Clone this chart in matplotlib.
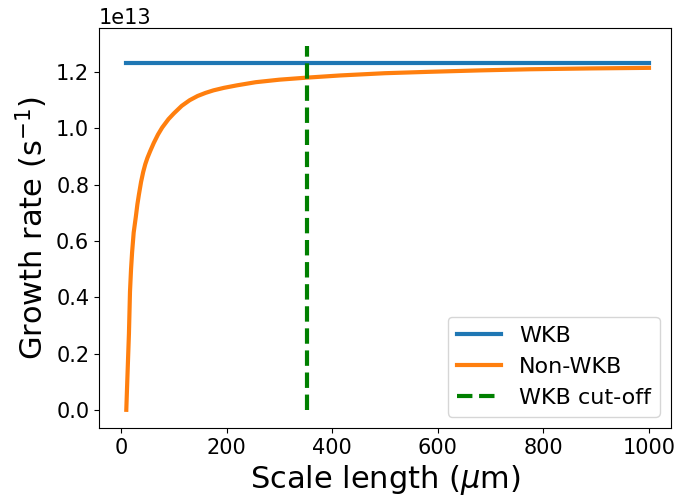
import matplotlib.pyplot as plt

# Scale length (um)
scale_length = [10, 12, 15, 17, 19, 21, 24, 28, 31, 34, 38, 42, 46, 50, 55, 62, 70,
                78, 90, 100, 115, 130, 145, 160, 175, 195, 220, 255, 300, 350, 415,
                500, 585, 680, 775, 890, 1000]

# Growth rates (1/s)
non_wkb_rate = [0.0, 0.11e13, 0.27e13, 0.42e13, 0.50e13, 0.56e13, 0.63e13, 0.685e13,
                0.73e13, 0.766e13, 0.81e13, 0.845e13, 0.873e13, 0.895e13, 0.918e13,
                0.948e13, 0.978e13, 1.003e13, 1.033e13, 1.053e13, 1.080e13, 1.100e13,
                1.115e13, 1.126e13, 1.135e13, 1.144e13, 1.153e13, 1.164e13, 1.173e13,
                1.180e13, 1.188e13, 1.196e13, 1.201e13, 1.206e13, 1.210e13, 1.213e13,
                1.215e13]
wkb_rate = 1.232e13

cutoff_length = 353
cutoff_top = 1.292e13

fig = plt.figure(figsize=(6.79, 5.04), dpi=100)
ax = fig.add_axes([99/679, 76/504, 572/679, 400/504])

ax.plot([scale_length[0], scale_length[-1]], [wkb_rate, wkb_rate], lw=3, label='WKB')
ax.plot(scale_length, non_wkb_rate, lw=3, label='Non-WKB')
ax.plot([cutoff_length, cutoff_length], [0, cutoff_top], '--', color='green', lw=3,
        label='WKB cut-off')

ax.set_xlim(-41.7, 1041.7)
ax.set_xlabel(r'Scale length ($\mu$m)', fontsize=22)
ax.set_ylabel(r'Growth rate (s$^{-1}$)', fontsize=22)
ax.tick_params(labelsize=15)
ax.yaxis.get_offset_text().set_fontsize(15)
ax.legend(loc='lower right', fontsize=16)

plt.savefig('out.png', dpi=100)
